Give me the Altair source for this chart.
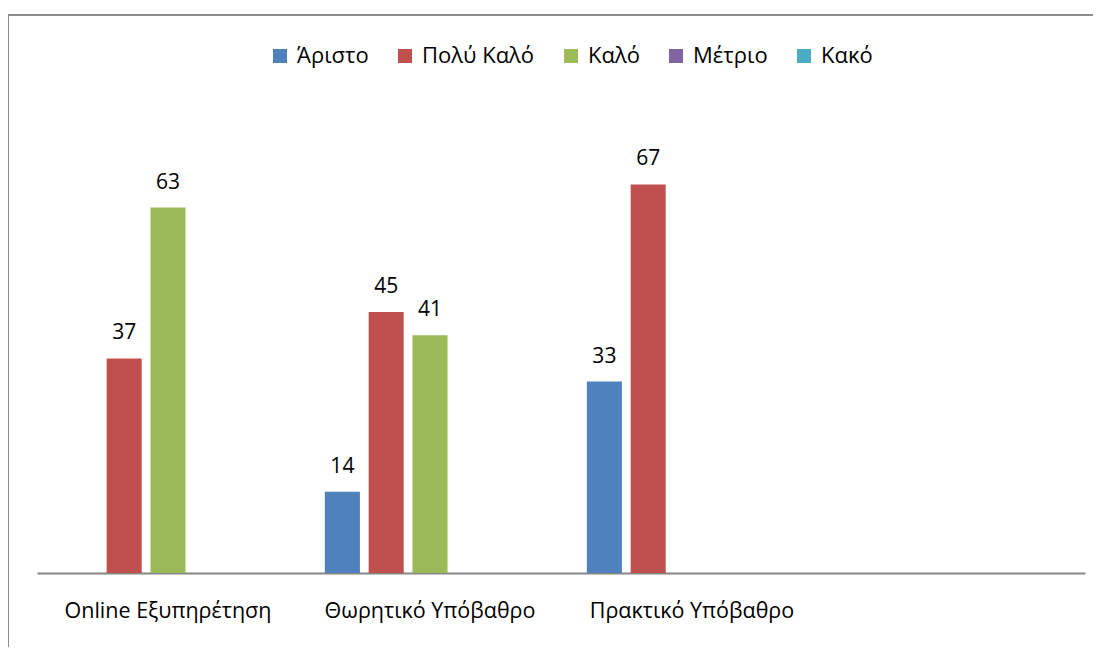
import altair as alt
import pandas as pd

categories = ["Online Εξυπηρέτηση", "Θωρητικό Υπόβαθρο", "Πρακτικό Υπόβαθρο"]
series = ["Άριστο", "Πολύ Καλό", "Καλό", "Μέτριο", "Κακό"]
colors = ["#4F81BD", "#C0504D", "#9BBB59", "#8064A2", "#4BACC6"]

# values per category, in series order (0 = no bar)
online = [0, 37, 63, 0, 0]
theory = [14, 45, 41, 0, 0]
practice = [33, 67, 0, 0, 0]

rows = []
for cat, vals in zip(categories, [online, theory, practice]):
    for s, v in zip(series, vals):
        if v > 0:
            rows.append({"cat": cat, "series": s, "value": v})
df = pd.DataFrame(rows)

x_domain = categories + [" "]
FONT = "Open Sans"

x_enc = alt.X("cat:N", scale=alt.Scale(domain=x_domain, paddingInner=0, paddingOuter=0),
              sort=x_domain,
              axis=alt.Axis(title=None, labelAngle=0, ticks=False, domainColor="#868686",
                            domainWidth=2, labelFont=FONT, labelFontSize=21.5,
                            labelColor="#000000", labelPadding=27, labelBaseline="top",
                            labelLimit=400))
xo_enc = alt.XOffset("series:N", scale=alt.Scale(domain=series, paddingInner=0.2, paddingOuter=0.59))
y_enc = alt.Y("value:Q", scale=alt.Scale(domain=[0, 80]), axis=None)

bars = alt.Chart(df).mark_bar().encode(
    x=x_enc, xOffset=xo_enc, y=y_enc,
    color=alt.Color("series:N", scale=alt.Scale(domain=series, range=colors),
                    legend=alt.Legend(title=None, orient="none", direction="horizontal",
                                      legendX=232, legendY=-64, symbolType="square",
                                      symbolSize=196, symbolStrokeWidth=0, symbolOpacity=1,
                                      labelFont=FONT, labelFontSize=22, labelColor="#000000",
                                      columnPadding=25, labelOffset=6))
)

labels = alt.Chart(df).mark_text(baseline="alphabetic", dy=-19, font=FONT, fontSize=21,
                                 color="#000000").encode(
    x=x_enc, xOffset=xo_enc, y=y_enc, text=alt.Text("value:Q")
)

frame_df = pd.DataFrame({"k": [0]})
top_line = alt.Chart(frame_df).mark_rule(color="#8c8c8c", strokeWidth=2).encode(
    x=alt.value(-29), x2=alt.value(1200), y=alt.value(-94)
)
left_line = alt.Chart(frame_df).mark_rule(color="#8c8c8c", strokeWidth=2).encode(
    x=alt.value(-29), y=alt.value(-95), y2=alt.value(700)
)

chart = alt.layer(bars, labels, top_line, left_line).properties(
    width=1048, height=464,
    autosize=alt.AutoSizeParams(type="none"),
    padding={"left": 29, "top": 101, "right": 8, "bottom": 74},
    background="white",
).configure_view(stroke="transparent", strokeWidth=0)

chart.save("out.html", embed_options={"renderer": "svg", "actions": False})
